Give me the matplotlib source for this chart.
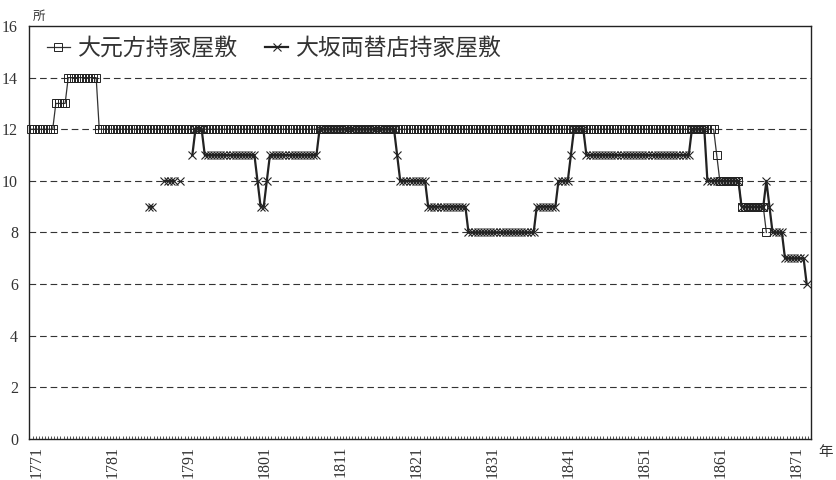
import numpy as np
import matplotlib.pyplot as plt
from matplotlib.ticker import FixedLocator

plt.rcParams['font.family'] = ['Noto Sans CJK JP', 'DejaVu Sans']

nan = np.nan

# one value per record, read left to right off the chart
omotokata = ([12]*8 + [13]*4 + [14]*10 + [12]*199 + [11] + [10]*7 +
             [9]*8 + [8] + [nan]*13)
osaka = ([nan]*38 + [9]*2 + [nan]*3 + [10]*4 + [nan] + [10] + [nan]*3 +
         [11] + [12]*3 + [11]*17 + [10] + [9]*2 + [10] + [11]*16 +
         [12]*25 + [11] + [10]*9 + [9]*13 + [8]*22 + [9]*7 + [10]*4 +
         [11] + [12]*4 + [11]*34 + [12]*5 + [10]*11 + [9]*8 + [10] + [9] +
         [8]*4 + [7]*7 + [6])
year_labels = ['1771', '1781', '1791', '1801', '1811', '1821', '1831',
               '1841', '1851', '1861', '1871']
series_names = ['大元方持家屋敷', '大坂両替店持家屋敷']

n = len(omotokata)
x = np.arange(n)

fig = plt.figure(figsize=(8.36, 4.8), dpi=100)
ax = fig.add_axes([29/836, 1-439/480, (811-29)/836, (439-26)/480])

ax.plot(x, omotokata, color='#333333', lw=0.9, marker='s', ms=5.6,
        mfc='none', mec='#222222', mew=0.7, label=series_names[0],
        clip_on=False)
ax.plot(x, osaka, color='#222222', lw=1.6, marker='x', ms=6.3,
        mec='#222222', mew=0.8, label=series_names[1], clip_on=False)

# pixel layout of the category axis
step = (806.7-31)/(n-1)
ax.set_xlim(-2/step, n-1 + 4.3/step)
ax.set_ylim(0, 16)

ticks = [(37-31)/step + k*76/step for k in range(len(year_labels))]
ax.set_xticks(ticks)
ax.set_xticklabels(year_labels, rotation=90, family='Liberation Serif',
                   fontsize=11.5, color='#333333')
ax.tick_params(axis='x', length=0, pad=5)
ax.xaxis.set_minor_locator(FixedLocator(np.arange(n+1) - 0.5))
ax.tick_params(axis='x', which='minor', direction='in', length=2.2,
               width=0.6, color='#333333')

ax.set_yticks(range(0, 17, 2))
ax.set_yticklabels([str(v) for v in range(0, 17, 2)],
                   family='Liberation Serif', fontsize=11.5, color='#333333')
ax.tick_params(axis='y', length=0, pad=8)

for v in range(2, 16, 2):
    ax.axhline(v, color='#333333', lw=0.8, ls=(0, (6, 3.5)), zorder=0)

for s in ax.spines.values():
    s.set_linewidth(1.0)
    s.set_color('#222222')

fig.text(39/836, 1-16/480, '所', fontsize=9, color='#333333',
         ha='center', va='center')
fig.text(826/836, 1-452/480, '年', fontsize=10.5, color='#333333',
         ha='center', va='center')

leg = ax.legend(loc='upper left', bbox_to_anchor=(0.008, 1.0), ncol=2,
                frameon=False, fontsize=16.5, handlelength=1.0,
                handletextpad=0.35, columnspacing=1.2, borderaxespad=0.1,
                numpoints=1)
for t in leg.get_texts():
    t.set_color('#333333')

fig.savefig('out.png', dpi=100)
